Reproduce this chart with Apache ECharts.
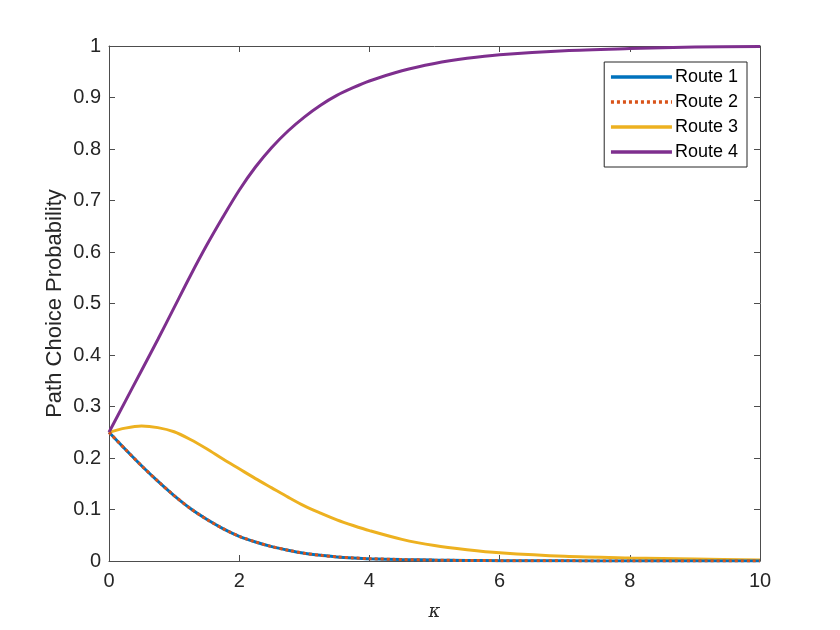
<!DOCTYPE html>
<html>
<head>
<meta charset="utf-8">
<script src="https://cdn.jsdelivr.net/npm/echarts@6/dist/echarts.min.js"></script>
<style>html,body{margin:0;padding:0;background:#fff}#c{width:840px;height:630px}</style>
</head>
<body>
<div id="c"></div>
<script>
var kappa  = [0,0.25,0.5,0.75,1,1.25,1.5,1.75,2,2.25,2.5,2.75,3,3.25,3.5,3.75,4,4.5,5,5.5,6,7,8,9,10];
var route1 = [0.25,0.217,0.185,0.155,0.127,0.102,0.081,0.063,0.048,0.037,0.028,0.021,0.015,0.011,0.008,0.006,0.0045,0.0028,0.0017,0.001,0.0007,0.0003,0.0001,0.0001,0.0000];
var route2 = [0.25,0.217,0.185,0.155,0.127,0.102,0.081,0.063,0.048,0.037,0.028,0.021,0.015,0.011,0.008,0.006,0.0045,0.0028,0.0017,0.001,0.0007,0.0003,0.0001,0.0001,0.0000];
var route3 = [0.25,0.258,0.262,0.259,0.251,0.236,0.218,0.198,0.179,0.160,0.142,0.124,0.107,0.093,0.080,0.069,0.059,0.042,0.030,0.022,0.016,0.009,0.006,0.004,0.002];
var route4 = [0.25,0.31,0.37,0.43,0.492,0.554,0.613,0.668,0.72,0.765,0.803,0.835,0.862,0.885,0.904,0.919,0.932,0.952,0.966,0.976,0.983,0.991,0.995,0.998,0.999];
var seriesNames = ['Route 1','Route 2','Route 3','Route 4'];
var xTicks = [0,2,4,6,8,10];
var yTicks = [0,0.1,0.2,0.3,0.4,0.5,0.6,0.7,0.8,0.9,1];

function pairs(ys){ return kappa.map(function(k,i){ return [k, ys[i]]; }); }

var chart = echarts.init(document.getElementById('c'), null, {renderer:'canvas'});
var axisCol = '#4d4d4d';
var font = 'Liberation Sans, Arial, Helvetica, sans-serif';
function baseX(pos, show){
  return {
    type:'value', position:pos, min:0, max:10, interval:2,
    axisLine:{show:true, onZero:false, lineStyle:{color:axisCol, width:1}},
    axisTick:{show:true, inside:true, length:6, lineStyle:{color:axisCol}},
    axisLabel:{show:show, color:'#262626', fontSize:20, fontFamily:font, margin:10,
      formatter:function(v){ return xTicks.indexOf(v)>=0 ? String(v) : ''; }},
    splitLine:{show:false}
  };
}
function baseY(pos, show){
  return {
    type:'value', position:pos, min:0, max:1, interval:0.1,
    axisLine:{show:true, onZero:false, lineStyle:{color:axisCol, width:1}},
    axisTick:{show:true, inside:true, length:6, lineStyle:{color:axisCol}},
    axisLabel:{show:show, color:'#262626', fontSize:20, fontFamily:font, margin:8,
      formatter:function(v){ var r=Math.round(v*10)/10; return r===0?'0':(r===1?'1':r.toFixed(1)); }},
    splitLine:{show:false}
  };
}
var xb = baseX('bottom', true);
xb.name = 'κ'; xb.nameLocation='middle'; xb.nameGap=42; xb.nameMoveOverlap=false;
xb.nameTextStyle = {fontFamily:'DejaVu Serif, serif', fontStyle:'italic', fontSize:18, color:'#262626'};
var yl = baseY('left', true);
yl.name = 'Path Choice Probability'; yl.nameLocation='middle'; yl.nameGap=43; yl.nameMoveOverlap=false;
yl.nameTextStyle = {fontFamily:font, fontSize:22, color:'#262626'};

var colors = ['#0072BD','#D95319','#EDB120','#7E2F8E'];
var data = [route1, route2, route3, route4];
var series = data.map(function(d,i){
  return {
    name: seriesNames[i], type:'line', data: pairs(d), smooth:0.3,
    showSymbol:false, symbol:'none', xAxisIndex:0, yAxisIndex:0,
    z: i===1 ? 5 : (i===0 ? 4 : 3),
    lineStyle:{color:colors[i], width:3, type: i===1 ? [3,3] : 'solid'},
    itemStyle:{color:colors[i]}
  };
});

chart.setOption({
  animation:false,
  backgroundColor:'#ffffff',
  color: colors,
  grid:{left:109, right:80, top:46, bottom:69, containLabel:false},
  xAxis:[xb, baseX('top', false)],
  yAxis:[yl, baseY('right', false)],
  legend:{
    show:true, orient:'vertical', right:93, top:62,
    data: seriesNames,
    itemWidth:61, itemHeight:18, itemGap:7,
    itemStyle:{opacity:0},
    lineStyle:{width:3.5},
    backgroundColor:'#ffffff', borderColor:'#262626', borderWidth:1,
    padding:[6,9,6,5],
    textStyle:{fontSize:18, fontFamily:font, color:'#000', padding:[0,0,0,-2]}
  },
  series: series
});
</script>
</body>
</html>
